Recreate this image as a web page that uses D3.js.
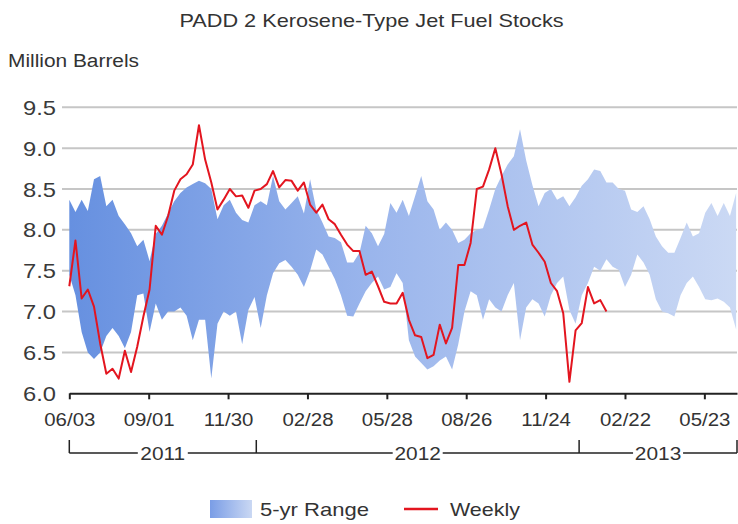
<!DOCTYPE html>
<html>
<head>
<meta charset="utf-8">
<script src="https://cdn.jsdelivr.net/npm/d3@7"></script>
<style>
  html, body { margin: 0; padding: 0; background: #fff; }
  svg { display: block; font-family: "Liberation Sans", Arial, sans-serif; }
</style>
</head>
<body>
<div id="chart"></div>
<script>
// weekly points start on this date, one value every 7 days
const startDate = '2011-06-03';
const endDate = '2013-06-29';

const tickDates = ['2011-06-03', '2011-09-01', '2011-11-30', '2012-02-28', '2012-05-28',
    '2012-08-26', '2012-11-24', '2013-02-22', '2013-05-23'];
const yTicks = [6.0, 6.5, 7.0, 7.5, 8.0, 8.5, 9.0, 9.5];
const yearLabels = ['2011', '2012', '2013'];
const yearBreaks = ['2011-06-03', '2012-01-01', '2013-01-01', '2013-06-29'];

// Weekly stocks, million barrels
const weekly = [
    7.31, 7.87, 7.16, 7.27, 7.06, 6.61, 6.24, 6.30, 6.18, 6.52,
    6.26, 6.57, 6.94, 7.27, 8.05, 7.94, 8.17, 8.48, 8.62, 8.68,
    8.80, 9.28, 8.86, 8.58, 8.25, 8.37, 8.50, 8.41, 8.42, 8.27,
    8.48, 8.50, 8.56, 8.72, 8.52, 8.61, 8.60, 8.48, 8.58, 8.31,
    8.21, 8.31, 8.13, 8.07, 7.94, 7.82, 7.74, 7.74, 7.45, 7.49,
    7.31, 7.12, 7.10, 7.10, 7.23, 6.90, 6.71, 6.69, 6.43, 6.47,
    6.84, 6.61, 6.80, 7.57, 7.57, 7.84, 8.50, 8.53, 8.74, 9.00,
    8.68, 8.29, 8.00, 8.05, 8.09, 7.82, 7.72, 7.61, 7.35, 7.25,
    6.98, 6.14, 6.77, 6.86, 7.30, 7.10, 7.14, 7.00
];

// 5-yr range, top and bottom
const rangeHigh = [
    8.37, 8.22, 8.37, 8.23, 8.62, 8.66, 8.29, 8.37, 8.17, 8.07,
    7.96, 7.80, 7.88, 7.62, 7.95, 8.05, 8.20, 8.35, 8.45, 8.52,
    8.56, 8.60, 8.57, 8.50, 8.13, 8.30, 8.37, 8.21, 8.12, 8.09,
    8.30, 8.35, 8.30, 8.66, 8.35, 8.25, 8.33, 8.41, 8.20, 8.62,
    8.25, 8.09, 7.92, 7.90, 7.85, 7.60, 7.60, 7.72, 8.05, 7.96,
    7.80, 7.95, 8.33, 8.21, 8.37, 8.17, 8.41, 8.66, 8.35, 8.25,
    8.00, 8.09, 8.00, 7.84, 7.88, 7.96, 8.00, 8.02, 8.25, 8.50,
    8.66, 8.80, 8.90, 9.23, 8.85, 8.55, 8.29, 8.45, 8.50, 8.37,
    8.41, 8.29, 8.40, 8.54, 8.62, 8.74, 8.72, 8.58, 8.58, 8.50,
    8.48, 8.25, 8.22, 8.29, 8.13, 7.92, 7.80, 7.72, 7.72, 7.90,
    8.09, 7.92, 7.96, 8.21, 8.33, 8.17, 8.33, 8.17, 8.45
];
const rangeLow = [
    7.45, 7.20, 6.75, 6.50, 6.42, 6.50, 6.70, 6.80, 6.70, 6.55,
    6.75, 7.20, 7.22, 6.75, 7.10, 6.90, 7.00, 7.00, 7.05, 6.95,
    6.65, 6.90, 6.90, 6.18, 6.85, 7.00, 6.95, 7.00, 6.60, 7.02,
    7.18, 6.80, 7.20, 7.47, 7.59, 7.63, 7.55, 7.45, 7.30, 7.50,
    7.76, 7.70, 7.55, 7.40, 7.20, 6.95, 6.94, 7.10, 7.25, 7.35,
    7.43, 7.27, 7.30, 7.47, 7.35, 6.65, 6.45, 6.37, 6.29, 6.33,
    6.40, 6.45, 6.29, 6.60, 7.00, 7.25, 7.20, 6.90, 7.15, 7.05,
    7.00, 7.20, 7.35, 6.65, 7.05, 7.15, 7.10, 6.94, 7.20, 7.35,
    7.43, 7.02, 6.85, 7.20, 7.35, 7.55, 7.50, 7.64, 7.55, 7.51,
    7.30, 7.45, 7.70, 7.60, 7.45, 7.15, 7.00, 6.98, 6.94, 7.20,
    7.35, 7.43, 7.30, 7.15, 7.14, 7.16, 7.12, 7.05, 6.78
];

const width = 738;
const height = 524;
const stretch = 1.16; // the source text is a little wide

const parse = d3.utcParse('%Y-%m-%d');
const weekDate = i => d3.utcDay.offset(parse(startDate), 7 * i);

const weeklyData = weekly.map((v, i) => ({ date: weekDate(i), value: v }));
const rangeData = rangeHigh.map((v, i) => ({ date: weekDate(i), high: v, low: rangeLow[i] }));

const x = d3.scaleUtc()
    .domain([parse(startDate), parse(endDate)])
    .range([69.3, 737]);

const y = d3.scaleLinear()
    .domain([6, 9.5])
    .range([393.3, 107.3]);

const svg = d3.select('#chart').append('svg')
    .attr('width', width)
    .attr('height', height);

const defs = svg.append('defs');
const grad = defs.append('linearGradient')
    .attr('id', 'rangeFill')
    .attr('gradientUnits', 'userSpaceOnUse')
    .attr('x1', x.range()[0]).attr('x2', x.range()[1])
    .attr('y1', 0).attr('y2', 0);
grad.append('stop').attr('offset', '0%').attr('stop-color', '#6690e0');
grad.append('stop').attr('offset', '45%').attr('stop-color', '#9ab5ec');
grad.append('stop').attr('offset', '100%').attr('stop-color', '#cbd9f4');

const legendGrad = defs.append('linearGradient')
    .attr('id', 'legendFill');
legendGrad.append('stop').attr('offset', '0%').attr('stop-color', '#7a9de6');
legendGrad.append('stop').attr('offset', '100%').attr('stop-color', '#cad8f3');

// helper for horizontally widened text
function wideText(parent, px, py, str, size, anchor, sx) {
    return parent.append('text')
        .attr('transform', `translate(${px},${py}) scale(${sx || stretch},1)`)
        .attr('text-anchor', anchor || 'start')
        .attr('font-size', size)
        .attr('fill', '#333')
        .text(str);
}

// title and unit
wideText(svg, 371.5, 26.5, 'PADD 2 Kerosene-Type Jet Fuel Stocks', 18.7, 'middle');
wideText(svg, 8, 67, 'Million Barrels', 18, 'start');

// gridlines
svg.append('g')
    .selectAll('line')
    .data(yTicks.filter(d => d > 6))
    .enter().append('line')
    .attr('x1', 62)
    .attr('x2', x.range()[1])
    .attr('y1', d => y(d))
    .attr('y2', d => y(d))
    .attr('stroke', '#c6c6c6')
    .attr('stroke-width', 2);

// y labels
svg.append('g')
    .selectAll('text')
    .data(yTicks)
    .enter().append('text')
    .attr('transform', d => `translate(56,${y(d)}) scale(1.13,1)`)
    .attr('text-anchor', 'end')
    .attr('dy', '0.36em')
    .attr('font-size', 21)
    .attr('fill', '#3a3a3a')
    .text(d => d.toFixed(1));

// 5-yr range
const area = d3.area()
    .x(d => x(d.date))
    .y0(d => y(d.low))
    .y1(d => y(d.high));

svg.append('path')
    .datum(rangeData)
    .attr('fill', 'url(#rangeFill)')
    .attr('d', area);

// weekly line
svg.append('path')
    .datum(weeklyData)
    .attr('fill', 'none')
    .attr('stroke', '#e3151f')
    .attr('stroke-width', 2)
    .attr('stroke-linejoin', 'round')
    .attr('d', d3.line()
        .x(d => x(d.date))
        .y(d => y(d.value)));

// x axis
const xAxis = svg.append('g')
    .attr('transform', `translate(0,${y(6)})`)
    .call(d3.axisBottom(x)
        .tickValues(tickDates.map(parse))
        .tickFormat(d3.utcFormat('%m/%d'))
        .tickSize(6)
        .tickSizeOuter(0)
        .tickPadding(14));

xAxis.select('.domain').attr('stroke', '#222').attr('stroke-width', 2);
xAxis.selectAll('.tick line').attr('stroke', '#222').attr('stroke-width', 2);
xAxis.selectAll('.tick text')
    .attr('font-size', 17.6)
    .attr('font-family', '"Liberation Sans", Arial, sans-serif')
    .attr('fill', '#333')
    .attr('transform', `scale(${stretch},1)`);

// year brackets
const bracketY = 453;
const years = svg.append('g');
years.append('line')
    .attr('x1', x(parse(yearBreaks[0])))
    .attr('x2', x(parse(yearBreaks[yearBreaks.length - 1])))
    .attr('y1', bracketY).attr('y2', bracketY)
    .attr('stroke', '#222')
    .attr('stroke-width', 1.5);
years.selectAll('.ytick')
    .data(yearBreaks)
    .enter().append('line')
    .attr('class', 'ytick')
    .attr('x1', d => x(parse(d)))
    .attr('x2', d => x(parse(d)))
    .attr('y1', 440).attr('y2', bracketY)
    .attr('stroke', '#222')
    .attr('stroke-width', 1.5);

yearLabels.forEach((label, i) => {
    const cx = (x(parse(yearBreaks[i])) + x(parse(yearBreaks[i + 1]))) / 2;
    years.append('rect')
        .attr('x', cx - 25)
        .attr('y', bracketY - 4)
        .attr('width', 50)
        .attr('height', 8)
        .attr('fill', '#fff');
    wideText(years, cx, bracketY + 7, label, 18, 'middle');
});

// legend
const legend = svg.append('g');
legend.append('rect')
    .attr('x', 210).attr('y', 500)
    .attr('width', 42).attr('height', 18)
    .attr('fill', 'url(#legendFill)');
wideText(legend, 260, 516, '5-yr Range', 19, 'start');
legend.append('line')
    .attr('x1', 404).attr('x2', 438)
    .attr('y1', 509).attr('y2', 509)
    .attr('stroke', '#e3151f')
    .attr('stroke-width', 2.5);
wideText(legend, 450, 516, 'Weekly', 18.5, 'start');
</script>
</body>
</html>
